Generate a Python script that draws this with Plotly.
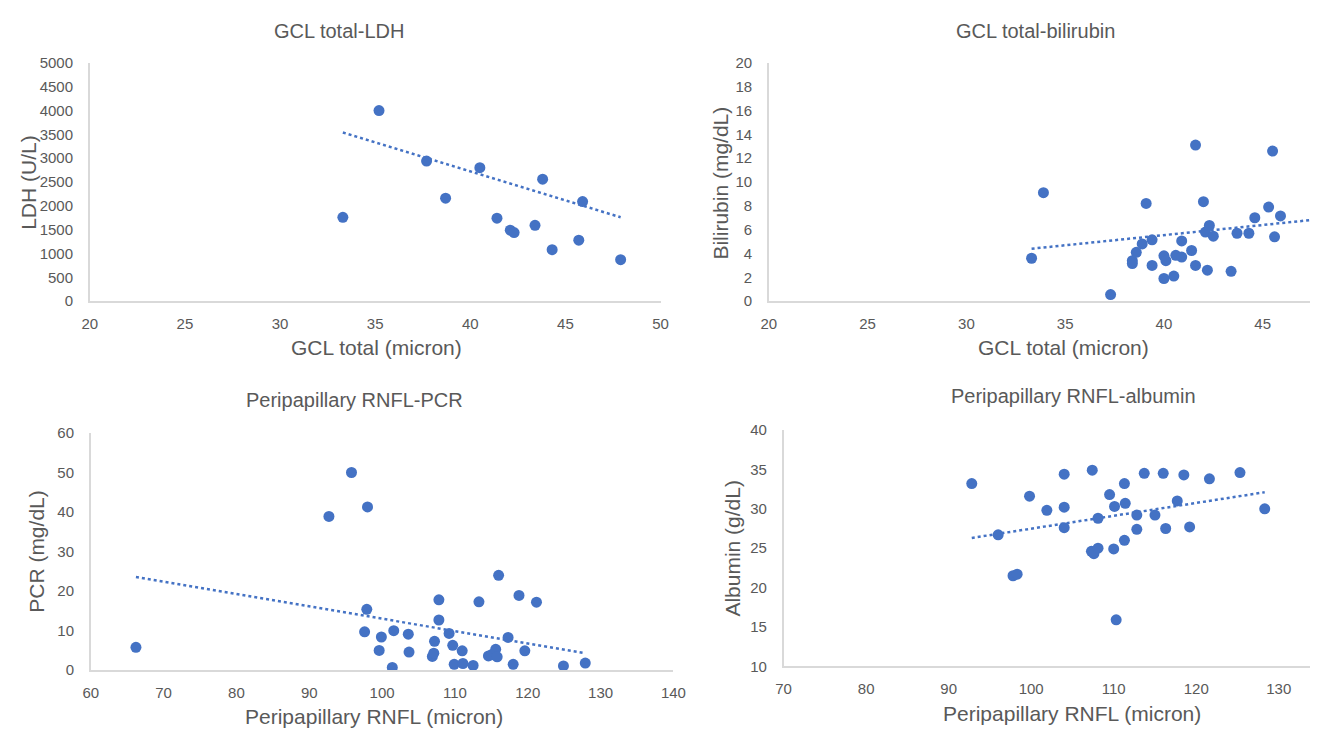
import plotly.graph_objects as go

# ---------------- data ----------------
gcl_ldh_x = [35.2, 33.3, 37.7, 38.7, 40.5, 43.8, 41.4, 42.1, 42.3, 43.4, 44.3, 45.7, 45.9, 47.9]
ldh_y = [4000, 1760, 2940, 2160, 2800, 2560, 1740, 1490, 1440, 1590, 1080, 1280, 2090, 870]
ldh_trend_x = [33.3, 47.9]
ldh_trend_y = [3540, 1760]

gcl_bili_x = [33.3, 33.9, 37.3, 39.1, 38.4, 38.4, 38.6, 38.9, 39.4, 39.4, 40.0, 40.1, 40.0,
              40.5, 40.6, 40.9, 40.9, 41.4, 41.6, 41.6, 42.0, 42.1, 42.3, 42.2, 42.5, 43.4,
              43.7, 44.3, 44.6, 45.3, 45.5, 45.6, 45.9]
bili_y = [3.6, 9.1, 0.55, 8.2, 3.4, 3.15, 4.1, 4.8, 5.15, 3.0, 3.8, 3.4, 1.9,
          2.1, 3.85, 3.7, 5.05, 4.25, 13.1, 3.0, 8.35, 5.8, 6.35, 2.6, 5.45, 2.5,
          5.7, 5.7, 7.0, 7.9, 12.6, 5.4, 7.15]
bili_trend_x = [33.3, 47.4]
bili_trend_y = [4.4, 6.8]

rnfl_pcr_x = [66.2, 92.7, 95.8, 98.0, 97.9, 97.6, 99.6, 99.9, 101.4, 101.6, 103.6, 103.7,
              106.9, 107.1, 107.2, 107.8, 107.8, 109.2, 109.7, 109.9, 111.0, 111.1, 112.5,
              113.3, 114.6, 115.0, 115.6, 115.8, 116.0, 117.3, 118.0, 118.8, 119.6, 121.2,
              124.9, 127.9]
pcr_y = [5.8, 38.9, 50.0, 41.3, 15.4, 9.7, 5.0, 8.4, 0.7, 10.0, 9.1, 4.6,
         3.5, 4.3, 7.3, 17.8, 12.7, 9.3, 6.3, 1.5, 4.9, 1.7, 1.2,
         17.3, 3.6, 3.9, 5.3, 3.4, 24.0, 8.3, 1.5, 18.9, 4.9, 17.2,
         1.1, 1.8]
pcr_trend_x = [66.2, 127.9]
pcr_trend_y = [23.6, 4.3]

rnfl_alb_x = [92.8, 96.0, 97.8, 98.3, 99.8, 101.9, 104.0, 104.0, 104.0, 107.4, 107.3, 107.6,
              108.1, 108.1, 109.5, 110.1, 110.0, 110.3, 111.3, 111.4, 111.3, 112.8, 112.8,
              113.7, 115.0, 116.0, 116.3, 117.7, 118.5, 119.2, 121.6, 125.3, 128.3]
alb_y = [33.2, 26.7, 21.5, 21.7, 31.6, 29.8, 34.4, 30.2, 27.6, 34.9, 24.6, 24.3,
         25.0, 28.8, 31.8, 30.3, 24.9, 15.9, 33.2, 30.7, 26.0, 29.2, 27.4,
         34.5, 29.2, 34.5, 27.5, 31.0, 34.3, 27.7, 33.8, 34.6, 30.0]
alb_trend_x = [92.8, 128.3]
alb_trend_y = [26.3, 32.1]

titles = ["GCL total-LDH", "GCL total-bilirubin", "Peripapillary RNFL-PCR", "Peripapillary RNFL-albumin"]
x_titles = ["GCL total (micron)", "GCL total (micron)", "Peripapillary RNFL (micron)", "Peripapillary RNFL (micron)"]
y_titles = ["LDH (U/L)", "Bilirubin (mg/dL)", "PCR (mg/dL)", "Albumin (g/dL)"]

# ---------------- layout geometry ----------------
PAGE_MARGIN = 8          # default <body> margin of the html page
W, H = 1338 - 2 * PAGE_MARGIN, 737 - 2 * PAGE_MARGIN
BLUE = "#4472C4"
GREY = "#595959"
FONT = "Liberation Sans, Arial, sans-serif"


def fx(px):
    return (px - PAGE_MARGIN) / W


def fy(py):
    return 1 - (py - PAGE_MARGIN) / H


panels = [
    dict(x=gcl_ldh_x, y=ldh_y, tx=ldh_trend_x, ty=ldh_trend_y,
         px=(83, 663), py=(55, 299), xr=(20, 50), yr=(0, 5000), dx=5, dy=500,
         title_pos=(336, 22), xt_pos=(374, 346), yt_pos=(20, 177)),
    dict(x=gcl_bili_x, y=bili_y, tx=bili_trend_x, ty=bili_trend_y,
         px=(773, 1323), py=(55, 299), xr=(20, 47.4), yr=(0, 20), dx=5, dy=2,
         title_pos=(1044, 22), xt_pos=(1072, 346), yt_pos=(724, 178)),
    dict(x=rnfl_pcr_x, y=pcr_y, tx=pcr_trend_x, ty=pcr_trend_y,
         px=(84, 676), py=(434, 677), xr=(60, 140), yr=(0, 60), dx=10, dy=10,
         title_pos=(352, 400), xt_pos=(372, 724), yt_pos=(28, 555)),
    dict(x=rnfl_alb_x, y=alb_y, tx=alb_trend_x, ty=alb_trend_y,
         px=(788, 1323), py=(431, 673), xr=(70, 133.8), yr=(10, 40), dx=10, dy=5,
         title_pos=(1083, 396), xt_pos=(1081, 721), yt_pos=(736, 552)),
]

fig = go.Figure()
layout = dict(width=W, height=H, margin=dict(l=0, r=0, t=0, b=0),
              paper_bgcolor="white", plot_bgcolor="white", showlegend=False,
              font=dict(family=FONT, color=GREY))
annotations = []

for i, p in enumerate(panels, start=1):
    xa = "x" if i == 1 else f"x{i}"
    ya = "y" if i == 1 else f"y{i}"
    fig.add_trace(go.Scatter(x=p["tx"], y=p["ty"], mode="lines", xaxis=xa, yaxis=ya,
                             line=dict(color=BLUE, width=2.5, dash="dot"), hoverinfo="skip"))
    fig.add_trace(go.Scatter(x=p["x"], y=p["y"], mode="markers", xaxis=xa, yaxis=ya,
                             marker=dict(color=BLUE, size=11)))

    axis_common = dict(showline=True, linecolor="#D9D9D9", linewidth=1.5, showgrid=False,
                       zeroline=False, ticks="", tickfont=dict(family=FONT, size=15, color=GREY))
    xkey = "xaxis" if i == 1 else f"xaxis{i}"
    ykey = "yaxis" if i == 1 else f"yaxis{i}"
    layout[xkey] = dict(axis_common, domain=[fx(p["px"][0]), fx(p["px"][1])], range=list(p["xr"]),
                        tick0=p["xr"][0], dtick=p["dx"], anchor=ya, ticklabelstandoff=8)
    layout[ykey] = dict(axis_common, domain=[fy(p["py"][1]), fy(p["py"][0])], range=list(p["yr"]),
                        tick0=p["yr"][0], dtick=p["dy"], anchor=xa, ticklabelstandoff=12)

    annotations.append(dict(text=titles[i - 1], x=fx(p["title_pos"][0]), y=fy(p["title_pos"][1]),
                            xref="paper", yref="paper", showarrow=False, xanchor="center", yanchor="middle",
                            font=dict(family=FONT, size=20, color=GREY)))
    annotations.append(dict(text=x_titles[i - 1], x=fx(p["xt_pos"][0]), y=fy(p["xt_pos"][1]),
                            xref="paper", yref="paper", showarrow=False, xanchor="center", yanchor="middle",
                            font=dict(family=FONT, size=21, color=GREY)))
    annotations.append(dict(text=y_titles[i - 1], x=fx(p["yt_pos"][0]), y=fy(p["yt_pos"][1]),
                            xref="paper", yref="paper", showarrow=False, xanchor="center", yanchor="middle",
                            textangle=-90, font=dict(family=FONT, size=21, color=GREY)))

layout["annotations"] = annotations
fig.update_layout(**layout)
fig.write_html("out.html")
